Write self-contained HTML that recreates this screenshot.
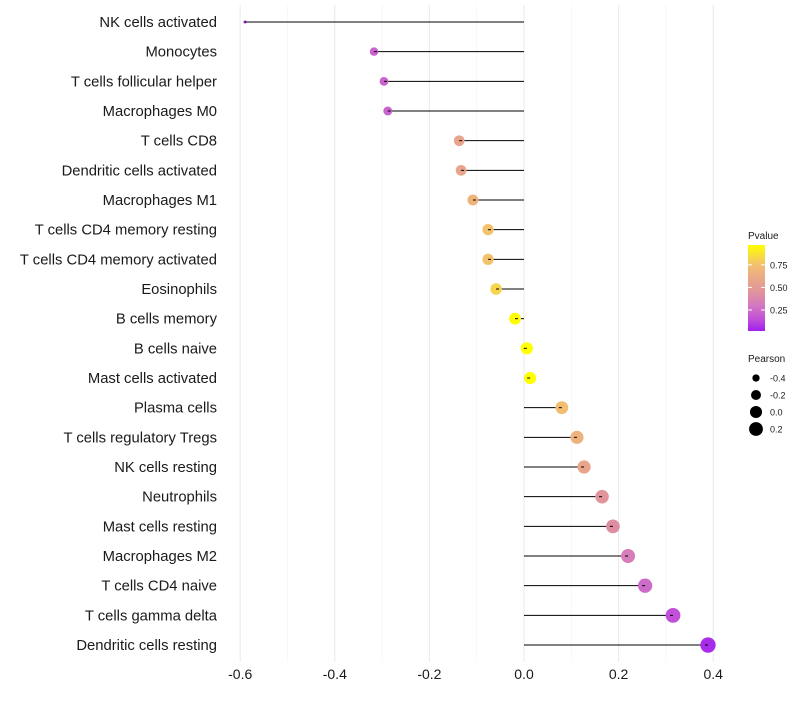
<!DOCTYPE html>
<html><head><meta charset="utf-8"><style>
body{margin:0;background:#fff;font-family:"Liberation Sans",sans-serif}
</style></head><body>
<svg id="c" width="800" height="700" xmlns="http://www.w3.org/2000/svg" font-family="Liberation Sans, sans-serif"></svg>
<script>
const categories=["NK cells activated","Monocytes","T cells follicular helper","Macrophages M0","T cells CD8","Dendritic cells activated","Macrophages M1","T cells CD4 memory resting","T cells CD4 memory activated","Eosinophils","B cells memory","B cells naive","Mast cells activated","Plasma cells","T cells regulatory  Tregs ","NK cells resting","Neutrophils","Mast cells resting","Macrophages M2","T cells CD4 naive","T cells gamma delta","Dendritic cells resting"];
const pearson=[-0.59,-0.317,-0.296,-0.288,-0.137,-0.133,-0.108,-0.076,-0.076,-0.059,-0.019,0.006,0.013,0.080,0.112,0.127,0.165,0.188,0.22,0.256,0.315,0.389];
const pvalue=[0.03,0.22,0.22,0.22,0.58,0.58,0.68,0.76,0.76,0.82,0.96,0.98,0.97,0.74,0.66,0.58,0.46,0.42,0.33,0.25,0.15,0.05];
const xTicks=[-0.6,-0.4,-0.2,0.0,0.2,0.4];
const xTickLabels=["-0.6","-0.4","-0.2","0.0","0.2","0.4"];
const pTicks=[0.25,0.5,0.75];
const pTickLabels=["0.25","0.50","0.75"];
const sizeTicks=[-0.4,-0.2,0.0,0.2];
const sizeTickLabels=["-0.4","-0.2","0.0","0.2"];

const svg=document.getElementById('c');
const NS="http://www.w3.org/2000/svg";
const x=v=>524+v*473;
const y=i=>22+i*29.667;
const rad=v=>Math.sqrt(2.25+58*Math.max(0,v+0.59));
const stops=[[0.017,[160,32,240]],[0.15,[192,80,216]],[0.3,[212,120,192]],[0.45,[224,148,156]],[0.6,[234,168,136]],[0.75,[242,192,112]],[0.97,[255,255,0]]];
function col(p){p=Math.max(0.017,Math.min(0.97,p));
 for(let k=0;k<stops.length-1;k++){const [a,ca]=stops[k],[b,cb]=stops[k+1];
  if(p<=b){const t=(p-a)/(b-a);return `rgb(${ca.map((c,j)=>Math.round(c+(cb[j]-c)*t)).join(',')})`;}}
 return 'rgb(255,255,0)';}
function mk(tag,a,parent){const e=document.createElementNS(NS,tag);for(const k in a)e.setAttribute(k,a[k]);(parent||svg).appendChild(e);return e;}

for(let v=-0.6;v<=0.41;v+=0.1){const maj=Math.abs(Math.round(v*10))%2===0;const g=mk('line',{x1:x(v),x2:x(v),y1:5,y2:662,stroke:maj?'#ebebeb':'#f3f3f3','stroke-width':maj?1.1:0.6});

}
xTicks.forEach((v,i)=>{const t=mk('text',{x:x(v),y:679,'text-anchor':'middle','font-size':14,fill:'#1a1a1a'});t.textContent=xTickLabels[i];

});
categories.forEach((c,i)=>{
 const t=mk('text',{x:217,y:y(i)+5,'text-anchor':'end','font-size':14.8,fill:'#1a1a1a'});t.textContent=c;
 
 
 const l=mk('line',{x1:x(0),x2:x(pearson[i]),y1:y(i),y2:y(i),stroke:'#000','stroke-width':1});
 
 
 const p=mk('circle',{cx:x(pearson[i]),cy:y(i),r:rad(pearson[i]),fill:col(pvalue[i])});
 
 
 mk('line',{x1:x(pearson[i]),x2:x(pearson[i])+(pearson[i]<0?3:-3),y1:y(i),y2:y(i),stroke:'#000','stroke-width':1});
});
const lt=mk('text',{x:748,y:239,'font-size':10,fill:'#1a1a1a'});lt.textContent='Pvalue';


const defs=mk('defs',{});const gr=mk('linearGradient',{id:'g',x1:0,y1:1,x2:0,y2:0},defs);
stops.forEach(s=>mk('stop',{offset:(s[0]-0.017)/(0.97-0.017),'stop-color':`rgb(${s[1].join(',')})`},gr));
const bar=mk('rect',{x:748,y:245,width:17,height:86,fill:'url(#g)'});


const py=p=>331-(p-0.017)/(0.97-0.017)*86;
pTicks.forEach((p,i)=>{mk('line',{x1:748,x2:752,y1:py(p),y2:py(p),stroke:'#fff'});mk('line',{x1:761,x2:765,y1:py(p),y2:py(p),stroke:'#fff'});
 const t=mk('text',{x:770,y:py(p)+3.5,'font-size':9,fill:'#1a1a1a'});t.textContent=pTickLabels[i];
 
 });
const st=mk('text',{x:748,y:362,'font-size':10,fill:'#1a1a1a'});st.textContent='Pearson';


sizeTicks.forEach((v,i)=>{const cy=378+i*17;const c=mk('circle',{cx:756,cy:cy,r:rad(v),fill:'#000'});
 
 
 const t=mk('text',{x:770,y:cy+3.5,'font-size':9,fill:'#1a1a1a'});t.textContent=sizeTickLabels[i];
 
 });
</script>
</body></html>
